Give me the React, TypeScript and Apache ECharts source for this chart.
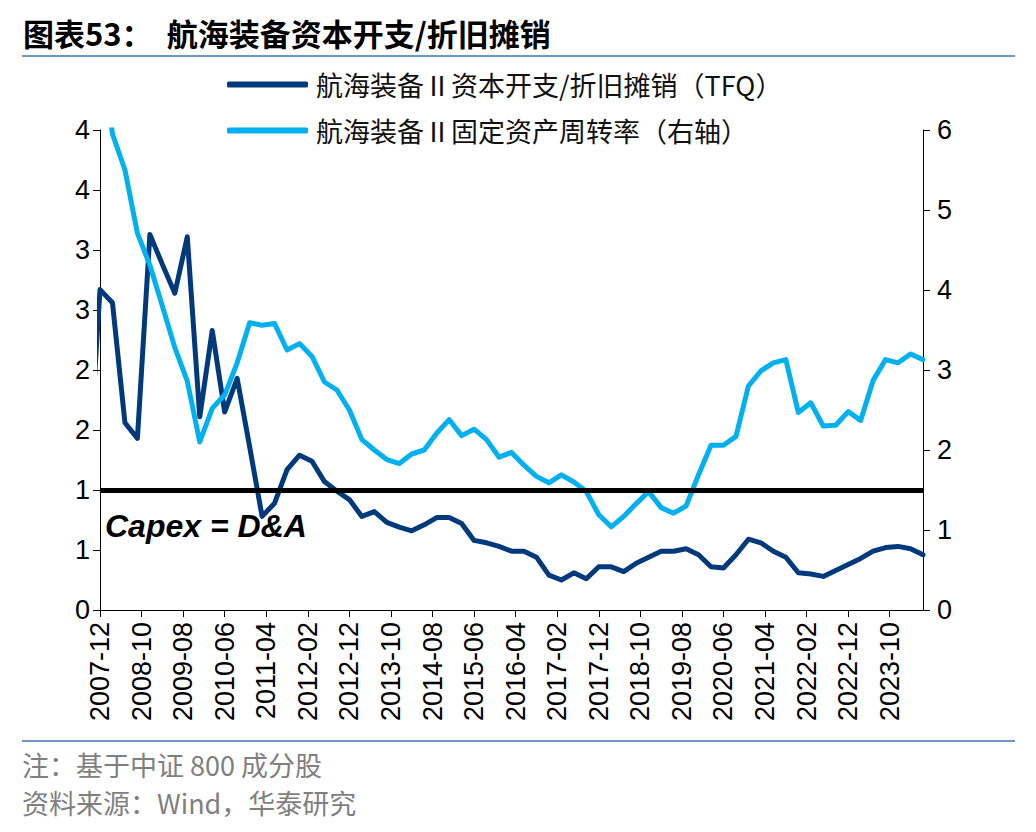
import React, { useEffect, useRef } from "react";
import * as echarts from "echarts";

// Quarter-end dates (the first one lies just left of the visible axis start and is clipped)
const quarters = [
  "2007-09", "2007-12",
  "2008-03", "2008-06", "2008-09", "2008-12",
  "2009-03", "2009-06", "2009-09", "2009-12",
  "2010-03", "2010-06", "2010-09", "2010-12",
  "2011-03", "2011-06", "2011-09", "2011-12",
  "2012-03", "2012-06", "2012-09", "2012-12",
  "2013-03", "2013-06", "2013-09", "2013-12",
  "2014-03", "2014-06", "2014-09", "2014-12",
  "2015-03", "2015-06", "2015-09", "2015-12",
  "2016-03", "2016-06", "2016-09", "2016-12",
  "2017-03", "2017-06", "2017-09", "2017-12",
  "2018-03", "2018-06", "2018-09", "2018-12",
  "2019-03", "2019-06", "2019-09", "2019-12",
  "2020-03", "2020-06", "2020-09", "2020-12",
  "2021-03", "2021-06", "2021-09", "2021-12",
  "2022-03", "2022-06", "2022-09", "2022-12",
  "2023-03", "2023-06", "2023-09", "2023-12",
  "2024-03", "2024-06",
];

// 航海装备Ⅱ资本开支/折旧摊销（TFQ） - left axis
const capexToDA = [
  1.0, 2.67,
  2.56, 1.56, 1.43, 3.13,
  2.88, 2.64, 3.11, 1.61,
  2.33, 1.65, 1.93, 1.36,
  0.78, 0.89, 1.17, 1.29,
  1.24, 1.07, 0.99, 0.92,
  0.78, 0.82, 0.73, 0.69,
  0.66, 0.71, 0.77, 0.77,
  0.72, 0.58, 0.56, 0.53,
  0.49, 0.49, 0.44, 0.29,
  0.25, 0.31, 0.26, 0.36,
  0.36, 0.32, 0.39, 0.44,
  0.49, 0.49, 0.51, 0.46,
  0.36, 0.35, 0.46, 0.59,
  0.56, 0.49, 0.44, 0.31,
  0.30, 0.28, 0.33, 0.38,
  0.43, 0.49, 0.52, 0.53,
  0.51, 0.46,
];

// 航海装备Ⅱ固定资产周转率（右轴）
const turnover = [
  null, 7.2,
  5.95, 5.5, 4.71, 4.31,
  3.8, 3.28, 2.86, 2.1,
  2.52, 2.69, 3.09, 3.59,
  3.56, 3.58, 3.25, 3.33,
  3.17, 2.85, 2.75, 2.5,
  2.13, 2.0, 1.88, 1.83,
  1.95, 2.0, 2.21, 2.38,
  2.18, 2.26, 2.13, 1.91,
  1.97, 1.81, 1.67, 1.59,
  1.69, 1.6, 1.48, 1.19,
  1.04, 1.17, 1.33, 1.48,
  1.28, 1.21, 1.3, 1.69,
  2.06, 2.06, 2.17, 2.8,
  2.99, 3.09, 3.13, 2.47,
  2.59, 2.3, 2.31, 2.48,
  2.37, 2.87, 3.13, 3.09,
  3.2, 3.13,
];

const xTickLabels = [
  "2007-12", "2008-10", "2009-08", "2010-06", "2011-04", "2012-02", "2012-12",
  "2013-10", "2014-08", "2015-06", "2016-04", "2017-02", "2017-12", "2018-10",
  "2019-08", "2020-06", "2021-04", "2022-02", "2022-12", "2023-10",
];

const axisStart = "2007-12";
const axisEnd = "2024-06";
const capexBreakEven = 1;

const seriesNames = [
  "航海装备Ⅱ资本开支/折旧摊销（TFQ）",
  "航海装备Ⅱ固定资产周转率（右轴）",
];

const titleText = "图表53：  航海装备资本开支/折旧摊销";
const noteText = "注：基于中证 800 成分股";
const sourceText = "资料来源：Wind，华泰研究";

function monthIndex(s: string): number {
  const [y, m] = s.split("-").map(Number);
  return (y - 2007) * 12 + (m - 12);
}

const DARK = "#003A7D";
const LIGHT = "#00B0F0";
const RULE = "#7094CC";
const CJK = '"Noto Sans CJK SC", "Noto Sans", sans-serif';
const LATIN = '"Liberation Sans", Arial, sans-serif';

export default function App() {
  const ref = useRef<HTMLDivElement>(null);

  useEffect(() => {
    if (!ref.current) return;
    const chart = echarts.init(ref.current, undefined, { renderer: "svg" });

    const tickValues = xTickLabels.map(monthIndex);
    const labelByIndex: Record<number, string> = {};
    xTickLabels.forEach((l) => (labelByIndex[monthIndex(l)] = l));

    const darkData = quarters.map((q, i) => [monthIndex(q), capexToDA[i]]);
    const lightData = quarters
      .map((q, i) => [monthIndex(q), turnover[i]])
      .filter((d) => d[1] !== null);

    const option: any = {
      animation: false,
      backgroundColor: "#ffffff",
      title: {
        text: titleText,
        left: 18,
        top: 12,
        textStyle: {
          fontFamily: CJK,
          fontSize: 31,
          fontWeight: "bold",
          color: "#000",
        },
      },
      legend: {
        data: seriesNames,
        orient: "vertical",
        left: 222,
        top: 66,
        itemWidth: 81,
        itemHeight: 6,
        itemGap: 19,
        icon: "roundRect",
        textStyle: {
          fontFamily: CJK,
          fontSize: 27,
          color: "#111",
          padding: [0, 0, 0, 3],
        },
      },
      grid: { left: 100, right: 113, top: 130, bottom: 222, containLabel: false },
      xAxis: {
        type: "value",
        min: monthIndex(axisStart),
        max: monthIndex(axisEnd),
        interval: 10,
        splitLine: { show: false },
        axisLine: { show: true, lineStyle: { color: "#000", width: 1 } },
        axisTick: {
          show: true,
          length: 7,
          inside: false,
          customValues: tickValues,
          lineStyle: { color: "#000" },
        },
        axisLabel: {
          rotate: 90,
          margin: 12,
          fontFamily: LATIN,
          fontSize: 27,
          color: "#000",
          customValues: tickValues,
          formatter: (v: number) => labelByIndex[v] ?? "",
        },
      },
      yAxis: [
        {
          type: "value",
          min: 0,
          max: 4,
          interval: 0.5,
          position: "left",
          splitLine: { show: false },
          axisLine: { show: true, lineStyle: { color: "#000" } },
          axisTick: { show: true, length: 7, lineStyle: { color: "#000" } },
          axisLabel: {
            margin: 10,
            fontFamily: LATIN,
            fontSize: 27,
            color: "#000",
            formatter: (v: number) => String(Math.round(v)),
          },
        },
        {
          type: "value",
          min: 0,
          max: 6,
          interval: 1,
          position: "right",
          splitLine: { show: false },
          axisLine: { show: true, lineStyle: { color: "#000" } },
          axisTick: { show: true, length: 7, lineStyle: { color: "#000" } },
          axisLabel: {
            margin: 14,
            fontFamily: LATIN,
            fontSize: 27,
            color: "#000",
          },
        },
      ],
      series: [
        {
          name: "breakEven",
          type: "line",
          data: [],
          yAxisIndex: 0,
          z: 1,
          silent: true,
          markLine: {
            silent: true,
            symbol: ["none", "none"],
            lineStyle: { color: "#000", width: 5, type: "solid" },
            label: {
              show: true,
              position: "insideStartBottom",
              distance: [5, 20],
              formatter: "Capex = D&A",
              fontFamily: LATIN,
              fontSize: 32,
              fontWeight: "bold",
              fontStyle: "italic",
              color: "#000",
            },
            data: [{ yAxis: capexBreakEven }],
          },
        },
        {
          name: seriesNames[0],
          type: "line",
          yAxisIndex: 0,
          data: darkData,
          showSymbol: false,
          symbol: "none",
          clip: true,
          z: 3,
          color: DARK,
          lineStyle: { color: DARK, width: 5, cap: "round", join: "round" },
        },
        {
          name: seriesNames[1],
          type: "line",
          yAxisIndex: 1,
          data: lightData,
          showSymbol: false,
          symbol: "none",
          clip: true,
          z: 4,
          color: LIGHT,
          lineStyle: { color: LIGHT, width: 5, cap: "round", join: "round" },
        },
      ],
      graphic: [
        {
          type: "line",
          shape: { x1: 22, y1: 56, x2: 1015, y2: 56 },
          style: { stroke: RULE, lineWidth: 2 },
        },
        {
          type: "line",
          shape: { x1: 22, y1: 741, x2: 1015, y2: 741 },
          style: { stroke: RULE, lineWidth: 2 },
        },
        {
          type: "text",
          left: 22,
          top: 751,
          style: { text: noteText, font: `27px ${CJK}`, fill: "#7F7F7F" },
        },
        {
          type: "text",
          left: 22,
          top: 789,
          style: { text: sourceText, font: `27px ${CJK}`, fill: "#7F7F7F" },
        },
      ],
    };

    chart.setOption(option);
    return () => chart.dispose();
  }, []);

  return (
    <div
      ref={ref}
      style={{ position: "fixed", left: 0, top: 0, width: 1036, height: 832, background: "#fff" }}
    />
  );
}
